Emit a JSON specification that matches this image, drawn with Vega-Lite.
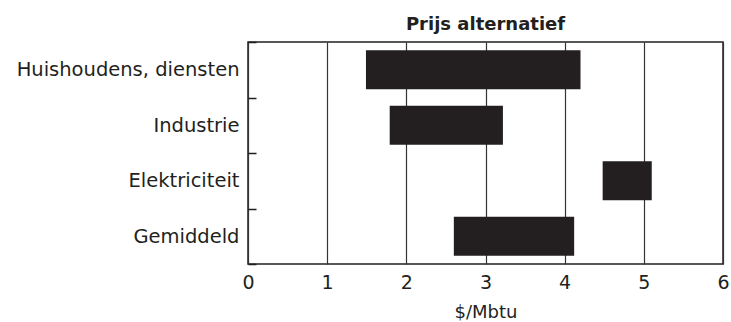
{
  "$schema": "https://vega.github.io/schema/vega-lite/v6.json",
  "autosize": {"type": "none"},
  "width": 475,
  "height": 222,
  "padding": {"left": 248, "top": 42, "right": 8, "bottom": 58},
  "background": "white",
  "title": {
    "text": "Prijs alternatief",
    "font": "DejaVu Sans",
    "fontSize": 18,
    "fontWeight": "bold",
    "color": "#231f20",
    "anchor": "middle",
    "baseline": "alphabetic",
    "offset": 12,
    "dy": 28
  },
  "config": {
    "view": {"stroke": "#231f20", "strokeWidth": 1.5},
    "font": "DejaVu Sans"
  },
  "data": {
    "values": [
      {"sector": "Huishoudens, diensten", "low": 1.49, "high": 4.20},
      {"sector": "Industrie", "low": 1.79, "high": 3.22},
      {"sector": "Elektriciteit", "low": 4.48, "high": 5.10},
      {"sector": "Gemiddeld", "low": 2.60, "high": 4.12}
    ]
  },
  "mark": {"type": "bar", "color": "#231f20", "height": {"band": 0.7}},
  "encoding": {
    "y": {
      "field": "sector",
      "type": "nominal",
      "sort": ["Huishoudens, diensten", "Industrie", "Elektriciteit", "Gemiddeld"],
      "scale": {"paddingInner": 0, "paddingOuter": 0},
      "axis": {
        "title": null,
        "domain": false,
        "grid": false,
        "tickBand": "extent",
        "tickSize": -8,
        "tickColor": "#231f20",
        "tickWidth": 1.5,
        "labelPadding": 17,
        "labelLimit": 400,
        "labelFont": "DejaVu Sans",
        "labelFontSize": 19.5,
        "labelColor": "#231f20",
        "labelBaseline": "middle"
      }
    },
    "x": {
      "field": "low",
      "type": "quantitative",
      "scale": {"domain": [0, 6], "nice": false, "zero": false},
      "axis": {
        "title": "$/Mbtu",
        "values": [0, 1, 2, 3, 4, 5, 6],
        "domain": false,
        "ticks": false,
        "tickSize": 0,
        "grid": true,
        "gridColor": "#333333",
        "gridWidth": 1.2,
        "gridOpacity": 1,
        "labelFont": "DejaVu Sans",
        "labelFontSize": 19,
        "labelColor": "#231f20",
        "labelBaseline": "alphabetic",
        "labelPadding": 24,
        "labelFlush": false,
        "titleFont": "DejaVu Sans",
        "titleFontSize": 18,
        "titleFontWeight": "normal",
        "titleColor": "#231f20",
        "titleBaseline": "alphabetic",
        "titleY": 53.5
      }
    },
    "x2": {"field": "high"}
  }
}
